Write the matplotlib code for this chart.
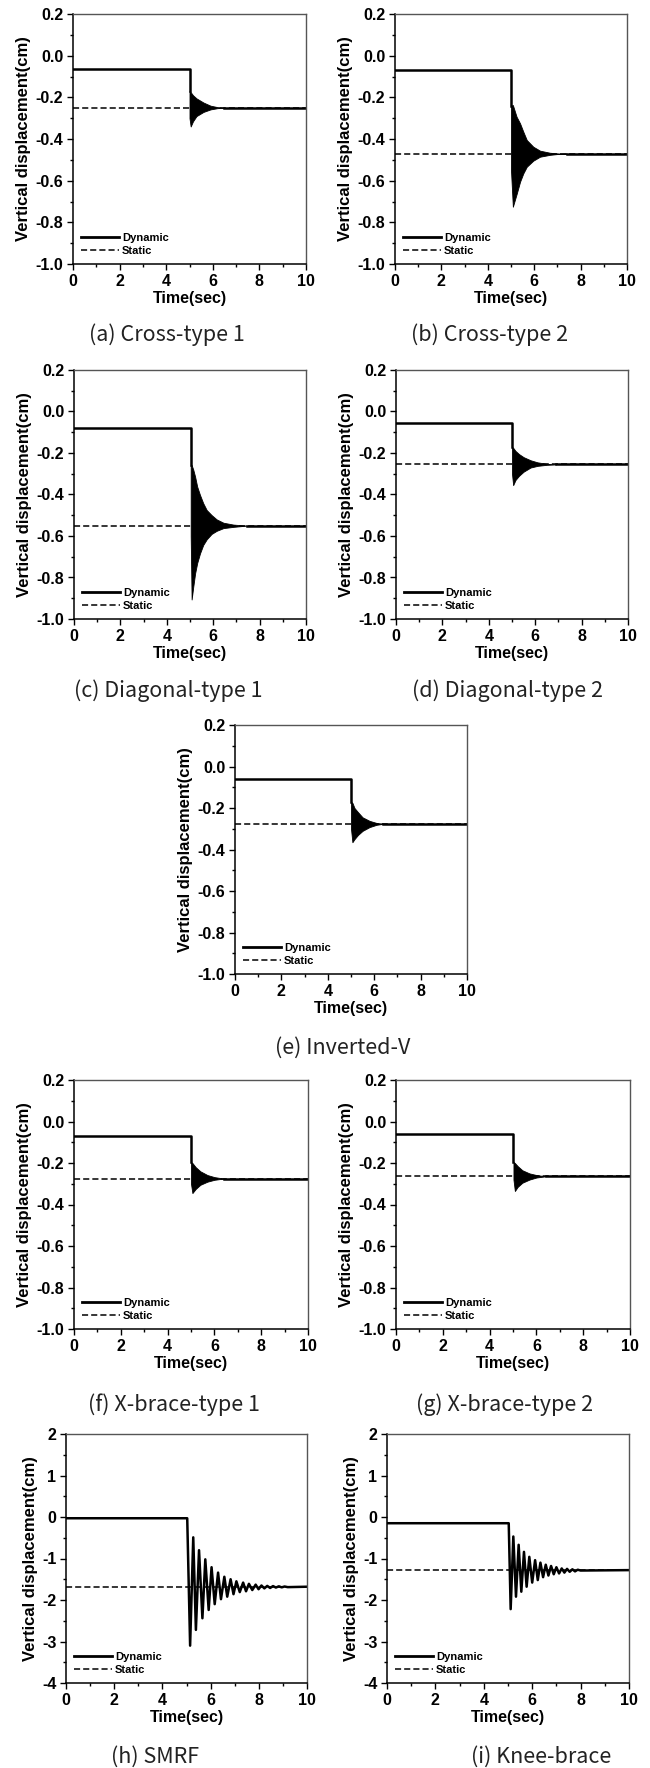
import matplotlib
matplotlib.use('Agg')
import matplotlib.pyplot as plt
from matplotlib.lines import Line2D
from matplotlib.ticker import MultipleLocator, FormatStrFormatter

plt.rcParams['axes.unicode_minus'] = False
plt.rcParams['font.family'] = ['Liberation Sans', 'DejaVu Sans']

# captions, levels before the load drop and static solution
captions = ['(a) Cross-type 1', '(b) Cross-type 2', '(c) Diagonal-type 1',
            '(d) Diagonal-type 2', '(e) Inverted-V', '(f) X-brace-type 1',
            '(g) X-brace-type 2', '(h) SMRF', '(i) Knee-brace']
pre_level = [-0.065, -0.07, -0.078, -0.056, -0.062, -0.069, -0.058, -0.03, -0.15]
static_level = [-0.25, -0.47, -0.55, -0.255, -0.276, -0.275, -0.264, -1.68, -1.28]

# envelopes of the dense oscillation (time, upper, lower)
env_t_a = [5.0, 5.05, 5.15, 5.3, 5.6, 5.9, 6.2, 6.5]
env_up_a = [-0.17, -0.175, -0.19, -0.205, -0.225, -0.24, -0.247, -0.25]
env_lo_a = [-0.30, -0.34, -0.315, -0.29, -0.27, -0.258, -0.252, -0.25]

env_t_b = [5.0, 5.08, 5.24, 5.39, 5.53, 5.68, 5.96, 6.25, 6.68, 7.11, 7.4]
env_up_b = [-0.24, -0.237, -0.293, -0.325, -0.365, -0.405, -0.437, -0.456, -0.466, -0.47, -0.47]
env_lo_b = [-0.55, -0.725, -0.665, -0.605, -0.565, -0.533, -0.504, -0.485, -0.476, -0.471, -0.47]

env_t_c = [5.03, 5.07, 5.14, 5.22, 5.31, 5.43, 5.57, 5.72, 5.93, 6.15, 6.44, 6.87, 7.44]
env_up_c = [-0.26, -0.258, -0.28, -0.314, -0.362, -0.402, -0.442, -0.475, -0.499, -0.52, -0.536, -0.545, -0.55]
env_lo_c = [-0.6, -0.906, -0.845, -0.78, -0.73, -0.684, -0.643, -0.616, -0.59, -0.575, -0.562, -0.556, -0.55]

env_t_d = [5.0, 5.05, 5.15, 5.3, 5.5, 5.8, 6.1, 6.5, 6.9]
env_up_d = [-0.17, -0.175, -0.19, -0.205, -0.22, -0.235, -0.245, -0.252, -0.255]
env_lo_d = [-0.30, -0.355, -0.33, -0.31, -0.29, -0.27, -0.262, -0.257, -0.255]

env_t_e = [5.0, 5.06, 5.15, 5.3, 5.5, 5.8, 6.1, 6.4]
env_up_e = [-0.17, -0.175, -0.20, -0.22, -0.245, -0.262, -0.272, -0.276]
env_lo_e = [-0.30, -0.365, -0.35, -0.33, -0.31, -0.292, -0.281, -0.276]

env_t_f = [5.0, 5.06, 5.2, 5.4, 5.7, 6.0, 6.4]
env_up_f = [-0.195, -0.2, -0.22, -0.24, -0.258, -0.268, -0.275]
env_lo_f = [-0.30, -0.345, -0.325, -0.305, -0.29, -0.281, -0.275]

env_t_g = [5.02, 5.08, 5.2, 5.4, 5.7, 6.0, 6.4]
env_up_g = [-0.195, -0.2, -0.215, -0.235, -0.25, -0.258, -0.264]
env_lo_g = [-0.28, -0.335, -0.315, -0.295, -0.28, -0.27, -0.264]

# peaks of the slower oscillation (SMRF, knee-brace)
peak_t_h = [5.15, 5.28, 5.39, 5.52, 5.66, 5.78, 5.92, 6.04, 6.17, 6.31, 6.43, 6.57, 6.69,
            6.83, 6.95, 7.07, 7.21, 7.35, 7.47, 7.59, 7.73, 7.87, 7.99, 8.11, 8.23, 8.35,
            8.47, 8.59, 8.71, 8.83, 8.95, 9.07, 9.2]
peak_v_h = [-3.10, -0.49, -2.72, -0.80, -2.44, -1.02, -2.24, -1.21, -2.10, -1.34, -1.98,
            -1.44, -1.92, -1.50, -1.86, -1.55, -1.81, -1.58, -1.79, -1.61, -1.76, -1.63,
            -1.74, -1.65, -1.72, -1.66, -1.71, -1.665, -1.70, -1.67, -1.695, -1.675, -1.69]
peak_t_i = [5.11, 5.22, 5.33, 5.44, 5.55, 5.66, 5.77, 5.88, 6.00, 6.12, 6.23, 6.34, 6.45,
            6.56, 6.67, 6.78, 6.89, 7.00, 7.11, 7.22, 7.33, 7.44, 7.55, 7.66, 7.77, 7.88, 8.0]
peak_v_i = [-2.22, -0.47, -1.92, -0.67, -1.80, -0.84, -1.68, -0.96, -1.58, -1.04, -1.52,
            -1.10, -1.45, -1.15, -1.41, -1.18, -1.38, -1.21, -1.36, -1.24, -1.34, -1.25,
            -1.32, -1.26, -1.31, -1.27, -1.29]

envelopes = [(env_t_a, env_up_a, env_lo_a), (env_t_b, env_up_b, env_lo_b),
             (env_t_c, env_up_c, env_lo_c), (env_t_d, env_up_d, env_lo_d),
             (env_t_e, env_up_e, env_lo_e), (env_t_f, env_up_f, env_lo_f),
             (env_t_g, env_up_g, env_lo_g)]
peaks = [(peak_t_h, peak_v_h), (peak_t_i, peak_v_i)]

W, H = 650, 1768
# axes boxes in pixels (left, top, right, bottom)
boxes = [(73, 14, 306, 264), (395, 14, 627, 264),
         (74, 370, 306, 619), (396, 370, 628, 619),
         (235, 725, 467, 974),
         (74, 1080, 308, 1329), (396, 1080, 630, 1329),
         (66, 1434, 307, 1683), (387, 1434, 629, 1683)]
cap_pos = [(167, 335), (490, 335), (168, 691), (508, 691), (343, 1048),
           (174, 1405), (505, 1405), (155, 1757), (541, 1757)]

fig = plt.figure(figsize=(W / 100, H / 100), dpi=100)

for k in range(9):
    l, t, r, b = boxes[k]
    ax = fig.add_axes([l / W, 1 - b / H, (r - l) / W, (b - t) / H])
    pre = pre_level[k]
    st = static_level[k]

    ax.plot([0, 10], [st, st], color='black', lw=1.1, ls=(0, (4, 2)))
    if k < 7:
        et, up, lo = envelopes[k]
        ax.plot([0, et[0], et[0]], [pre, pre, up[0]], color='black', lw=1.8)
        ax.fill_between(et, up, lo, color='black', lw=0.6)
        ax.plot([et[-1], 10], [st, st], color='black', lw=1.8)
        ax.set_ylim(-1.0, 0.2)
        ax.yaxis.set_major_locator(MultipleLocator(0.2))
        ax.yaxis.set_minor_locator(MultipleLocator(0.1))
        ax.yaxis.set_major_formatter(FormatStrFormatter('%.1f'))
    else:
        pt, pv = peaks[k - 7]
        ax.plot([0, 5.03] + pt + [10], [pre, pre] + pv + [st], color='black', lw=1.8)
        ax.set_ylim(-4, 2)
        ax.yaxis.set_major_locator(MultipleLocator(1))
        ax.yaxis.set_minor_locator(MultipleLocator(0.5))
        ax.yaxis.set_major_formatter(FormatStrFormatter('%d'))

    ax.set_xlim(0, 10)
    ax.xaxis.set_major_locator(MultipleLocator(2))
    ax.xaxis.set_minor_locator(MultipleLocator(1))
    ax.tick_params(which='major', direction='out', length=4.5, width=1, labelsize=11.5, pad=2.5)
    ax.tick_params(which='minor', direction='out', length=2.5, width=1)
    for lab in ax.get_xticklabels() + ax.get_yticklabels():
        lab.set_fontweight('bold')
    for s in ['left', 'bottom']:
        ax.spines[s].set_linewidth(1.1)
    for s in ['top', 'right']:
        ax.spines[s].set_color('#555555')
        ax.spines[s].set_linewidth(1.0)

    ax.set_xlabel('Time(sec)', fontsize=11.5, fontweight='bold', labelpad=1.5)
    ax.set_ylabel('Vertical displacement(cm)', fontsize=12, fontweight='bold', labelpad=3)

    data = [Line2D([0], [0], color='black', lw=2, label='Dynamic'),
            Line2D([0], [0], color='black', lw=1.1, ls=(0, (4, 2)), label='Static')]
    ax.legend(handles=data, loc='lower left', frameon=False, handlelength=3.4,
              handletextpad=0.3, labelspacing=0.3, borderaxespad=0.3,
              prop={'size': 8, 'weight': 'bold'})

    cx, cy = cap_pos[k]
    fig.text(cx / W, 1 - cy / H, captions[k], ha='center', va='center', fontsize=15.5,
             family=['Noto Sans CJK KR', 'DejaVu Sans'], color='#222222')

fig.savefig('out.png', dpi=100)
